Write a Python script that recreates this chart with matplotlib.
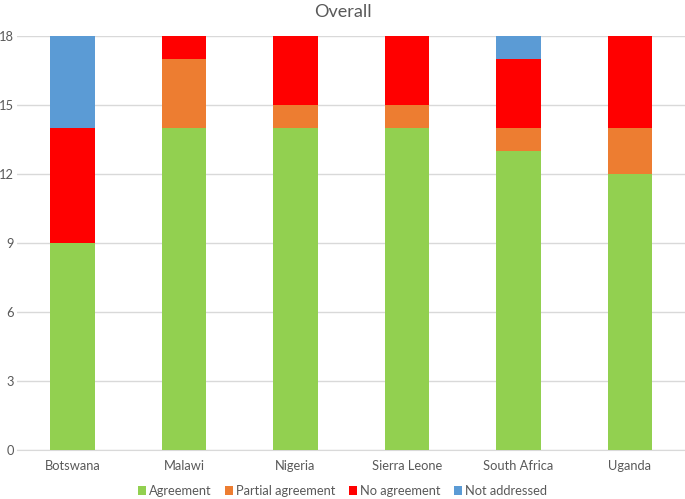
import matplotlib
matplotlib.use("Agg")
import matplotlib.pyplot as plt
import numpy as np

countries = ["Botswana", "Malawi", "Nigeria", "Sierra Leone", "South Africa", "Uganda"]
agreement = [9, 14, 14, 14, 13, 12]
partial = [0, 3, 1, 1, 1, 2]
no_agreement = [5, 1, 3, 3, 3, 4]
not_addressed = [4, 0, 0, 0, 1, 0]

series = [
    ("Agreement", agreement, "#92D050"),
    ("Partial agreement", partial, "#ED7D31"),
    ("No agreement", no_agreement, "#FF0000"),
    ("Not addressed", not_addressed, "#5B9BD5"),
]

plt.rcParams['font.family'] = ['Lato', 'DejaVu Sans']
grey = "#595959"

fig = plt.figure(figsize=(6.85, 4.99), dpi=100)
ax = fig.add_axes([0.0248, 0.0982, 0.976, 0.8297])

x = np.arange(len(countries))
bottom = np.zeros(len(countries))
for name, vals, col in series:
    ax.bar(x, vals, 0.4, bottom=bottom, color=col, label=name, zorder=3)
    bottom += np.array(vals)

ax.set_xlim(-0.5, len(countries) - 0.5)
ax.set_ylim(0, 18)
ax.set_yticks(range(0, 19, 3))
ax.set_xticks(x)
ax.set_xticklabels(countries)
ax.grid(axis="y", color="#D9D9D9", linewidth=1, zorder=0)
for s in ["top", "right", "left"]:
    ax.spines[s].set_visible(False)
ax.spines["bottom"].set_color("#D9D9D9")
ax.tick_params(length=0, colors=grey, labelsize=9.3)
ax.tick_params(axis="y", pad=2)
ax.tick_params(axis="x", pad=7)

fig.text(0.5, 0.975, "Overall", ha="center", va="center", fontsize=13, color=grey)
fig.legend(loc="center", bbox_to_anchor=(0.5, 0.016), ncol=4, frameon=False,
           fontsize=9.3, handlelength=0.6, handleheight=0.6, handletextpad=0.2,
           columnspacing=1.1, labelcolor=grey)

fig.savefig("out.png", dpi=100)
